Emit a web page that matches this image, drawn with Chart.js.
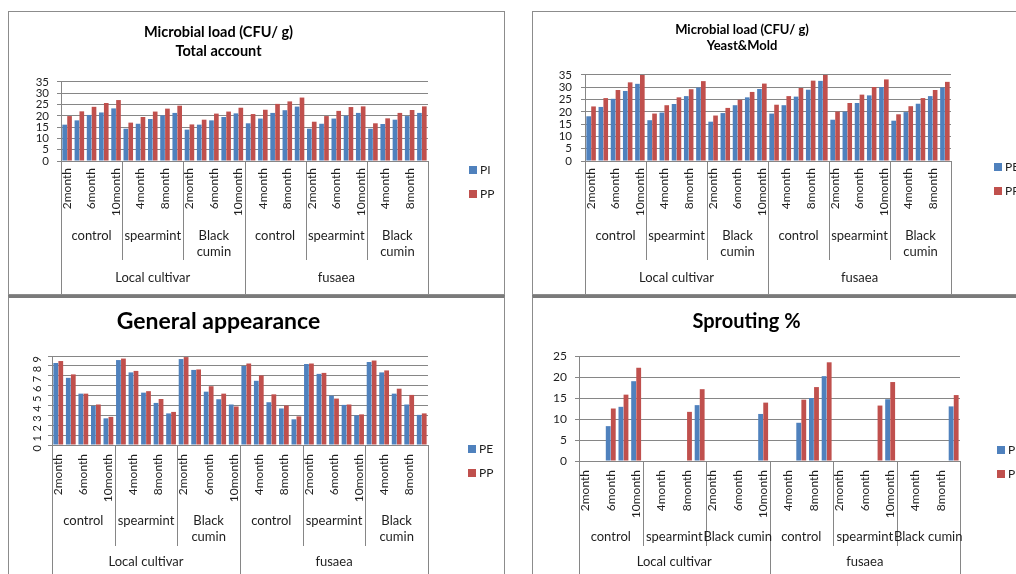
<!DOCTYPE html>
<html>
<head>
<meta charset="utf-8">
<script src="https://cdn.jsdelivr.net/npm/chart.js@4.4.0/dist/chart.umd.min.js"></script>
<style>
  html, body { margin: 0; padding: 0; background: #fff; width: 1016px; height: 574px; overflow: hidden; }
  .panel { position: absolute; width: 495px; height: 282px; border: 1px solid #8c8c8c; background: #fff; }
  .panel.low { border-top: 3px solid #7a7a7a; height: 280px; }
  canvas { display: block; }
</style>
</head>
<body>
<div class="panel" style="left:8px;top:11px"><canvas id="total" width="495" height="282"></canvas></div>
<div class="panel" style="left:532px;top:11px"><canvas id="yeast" width="495" height="282"></canvas></div>
<div class="panel low" style="left:8px;top:295px"><canvas id="appear" width="495" height="280"></canvas></div>
<div class="panel low" style="left:532px;top:295px"><canvas id="sprout" width="495" height="280"></canvas></div>
<script>
const months = ['2month', '4month', '6month', '8month', '10month'];
const groupsTwoLine = ['control', 'spearmint', ['Black', 'cumin'], 'control', 'spearmint', ['Black', 'cumin']];
const groupsOneLine = ['control', 'spearmint', 'Black cumin', 'control', 'spearmint', 'Black cumin'];
const cultivars = ['Local cultivar', 'fusaea'];
const cats = groupsOneLine.flatMap(() => months);

// Microbial load - total account
const totalPI = [16.1, 18, 20.4, 21.5, 23.3, 14.3, 16.5, 18.6, 20.2, 21.3, 13.9, 16.1, 18, 19.5, 21.1,
                 16.7, 18.8, 21.3, 22.5, 24.1, 14.3, 16.5, 18.8, 20.1, 21.3, 14.3, 16.4, 18.3, 19.9, 21.3];
const totalPP = [19.9, 22, 24, 25.7, 27, 17, 19.5, 21.9, 23.2, 24.5, 16.2, 18.3, 21, 21.9, 23.6,
                 20.8, 22.7, 25.3, 26.4, 28.1, 17.4, 19.9, 22.2, 23.9, 24.2, 16.7, 18.9, 21.3, 22.6, 24.2];
// Microbial load - yeast & mold
const yeastPE = [18.2, 22, 25.3, 28.5, 31.4, 16.6, 19.7, 23.2, 26.4, 29.9, 16, 19.5, 22.7, 25.9, 29.3,
                 19.3, 22.7, 26.2, 29, 32.6, 16.8, 20.1, 23.6, 26.7, 30.1, 16.4, 19.9, 23.3, 26.4, 29.9];
const yeastPP = [22.2, 25.6, 28.9, 32, 35.3, 19.3, 22.7, 25.9, 29.2, 32.5, 18.5, 21.6, 24.9, 28.1, 31.5,
                 22.9, 26.4, 29.7, 32.7, 35.8, 20.1, 23.6, 27, 30.1, 33.2, 19, 22.3, 25.6, 28.9, 32.2];
// General appearance
const appearPE = [8.3, 6.8, 5.2, 3.96, 2.7, 8.6, 7.35, 5.3, 4.26, 3.2, 8.7, 7.6, 5.4, 4.63, 4.1,
                  8, 6.5, 4.33, 3.7, 2.6, 8.2, 7.2, 5, 4.06, 3, 8.4, 7.35, 5.2, 4.1, 3.05];
const appearPP = [8.5, 7.15, 5.2, 4.1, 2.85, 8.75, 7.5, 5.45, 4.66, 3.35, 8.9, 7.65, 5.95, 5.2, 3.9,
                  8.25, 7.05, 5.13, 4, 2.9, 8.25, 7.3, 4.7, 4.1, 3.1, 8.55, 7.55, 5.7, 5.07, 3.2];
// Sprouting %
const sproutPE = [0, 0, 8.3, 12.9, 19, 0, 0, 0, 0, 13.3, 0, 0, 0, 0, 11.2,
                  0, 0, 9.1, 15, 20.2, 0, 0, 0, 0, 14.7, 0, 0, 0, 0, 13];
const sproutPP = [0, 0, 12.5, 15.8, 22.2, 0, 0, 0, 11.7, 17.1, 0, 0, 0, 0, 13.9,
                  0, 0, 14.6, 17.6, 23.5, 0, 0, 0, 13.2, 18.8, 0, 0, 0, 0, 15.7];

const blue = '#4F81BD';
const red = '#C0504D';
const lineCol = '#868686';
const txtCol = '#1e1e1e';

// group / cultivar rows under the month labels, plus the legend on the right
const hierPlugin = {
  id: 'hier',
  afterDraw(chart, args, o) {
    const { ctx, chartArea: a, scales: { x } } = chart;
    const n = chart.data.labels.length;
    const edge = i => i <= 0 ? a.left : i >= n ? a.right
      : (x.getPixelForValue(i - 1) + x.getPixelForValue(i)) / 2;
    const per = n / o.groups.length;
    const perCult = o.groups.length / cultivars.length;
    const bottom = chart.height;
    ctx.save();
    ctx.strokeStyle = lineCol;
    ctx.lineWidth = 1;
    for (let k = 0; k <= o.groups.length; k++) {
      const px = Math.round(edge(k * per)) + 0.5;
      const end = k % perCult === 0 ? bottom : a.bottom + o.groupLine;
      ctx.beginPath();
      ctx.moveTo(px, a.bottom);
      ctx.lineTo(px, end);
      ctx.stroke();
    }
    ctx.fillStyle = txtCol;
    ctx.font = '13px Lato';
    ctx.textAlign = 'center';
    ctx.textBaseline = 'middle';
    o.groups.forEach((g, k) => {
      const cx = (edge(k * per) + edge((k + 1) * per)) / 2;
      [].concat(g).forEach((t, j) => ctx.fillText(t, cx, a.bottom + o.groupY + j * 16));
    });
    cultivars.forEach((c, k) => {
      const cx = (edge(k * per * perCult) + edge((k + 1) * per * perCult)) / 2;
      ctx.fillText(c, cx, a.bottom + o.cultY);
    });
    // legend
    ctx.textAlign = 'left';
    ctx.font = '12px Lato';
    chart.data.datasets.forEach((ds, i) => {
      const ly = o.legend[1] + i * 24;
      ctx.fillStyle = ds.backgroundColor;
      ctx.fillRect(o.legend[0], ly - 4, 8, 8);
      ctx.fillStyle = txtCol;
      ctx.fillText(ds.label, o.legend[0] + 11, ly);
    });
    ctx.restore();
  }
};

function makeChart(id, c) {
  return new Chart(document.getElementById(id), {
    type: 'bar',
    data: {
      labels: cats,
      datasets: [
        { label: c.names[0], data: c.a, backgroundColor: blue },
        { label: c.names[1], data: c.b, backgroundColor: red }
      ]
    },
    options: {
      responsive: false,
      animation: false,
      devicePixelRatio: 1,
      layout: { padding: { right: c.padRight, left: 0, top: 0, bottom: 0 } },
      datasets: { bar: { categoryPercentage: 0.8, barPercentage: 0.95 } },
      plugins: {
        legend: { display: false },
        tooltip: { enabled: false },
        title: {
          display: true, text: c.title, color: '#000',
          font: { family: 'Lato', weight: 'bold', size: c.titleSize, lineHeight: c.titleLH },
          padding: { top: c.titlePad[0], bottom: c.titlePad[1] }
        },
        hier: { groups: c.groups, groupY: c.groupY, groupLine: c.groupLine, cultY: c.cultY, legend: c.legend }
      },
      scales: {
        x: {
          afterFit: s => { s.height = c.xh; },
          grid: { drawOnChartArea: false, drawTicks: false },
          border: { color: lineCol },
          ticks: {
            autoSkip: false, minRotation: 90, maxRotation: 90, padding: c.tickPad,
            color: txtCol, font: { family: 'Lato', size: 12 },
            callback(v, i) { return i % 2 ? '' : this.getLabelForValue(v); }
          }
        },
        y: {
          min: 0, max: c.max,
          afterFit: s => { s.width = c.yw; },
          grid: { color: lineCol, tickLength: 4 },
          border: { color: lineCol },
          ticks: {
            stepSize: c.step, padding: c.yPad, color: txtCol, autoSkip: false,
            minRotation: c.yRot || 0, maxRotation: c.yRot || 0,
            font: { family: 'Lato', size: c.yFont || 12 }
          }
        }
      }
    },
    plugins: [hierPlugin]
  });
}

makeChart('total', {
  names: ['PI', 'PP'], a: totalPI, b: totalPP, max: 35, step: 5,
  title: ['Microbial load (CFU/ g)', 'Total account'], titleSize: 14.5, titleLH: 1.31, titlePad: [10.5, 21.5],
  padRight: 76, yw: 52, yPad: 8, yFont: 11.5, xh: 133, tickPad: 7,
  groups: groupsTwoLine, groupY: 75, groupLine: 99, cultY: 117, legend: [460, 158]
});
makeChart('yeast', {
  names: ['PE', 'PP'], a: yeastPE, b: yeastPP, max: 35, step: 5,
  title: ['Microbial load (CFU/ g)', 'Yeast&Mold'], titleSize: 13, titleLH: 1.23, titlePad: [10, 21],
  padRight: 77, yw: 52, yPad: 9, yFont: 11.5, xh: 133, tickPad: 7,
  groups: groupsTwoLine, groupY: 75, groupLine: 99, cultY: 117, legend: [461, 155]
});
makeChart('appear', {
  names: ['PE', 'PP'], a: appearPE, b: appearPP, max: 9, step: 1,
  title: 'General appearance', titleSize: 23, titleLH: 1.1, titlePad: [11.4, 21.4],
  padRight: 76, yw: 43, yPad: 11, yRot: 90, yFont: 11, xh: 133, tickPad: 9,
  groups: groupsTwoLine, groupY: 76, groupLine: 101, cultY: 117, legend: [459, 151]
});
makeChart('sprout', {
  names: ['PE', 'PP'], a: sproutPE, b: sproutPP, max: 25, step: 5,
  title: 'Sprouting %', titleSize: 20, titleLH: 1.26, titlePad: [11.4, 21.4],
  padRight: 68, yw: 46, yPad: 8, xh: 117, tickPad: 9,
  groups: groupsOneLine, groupY: 76, groupLine: 85, cultY: 101, legend: [464, 152]
});
</script>
</body>
</html>
